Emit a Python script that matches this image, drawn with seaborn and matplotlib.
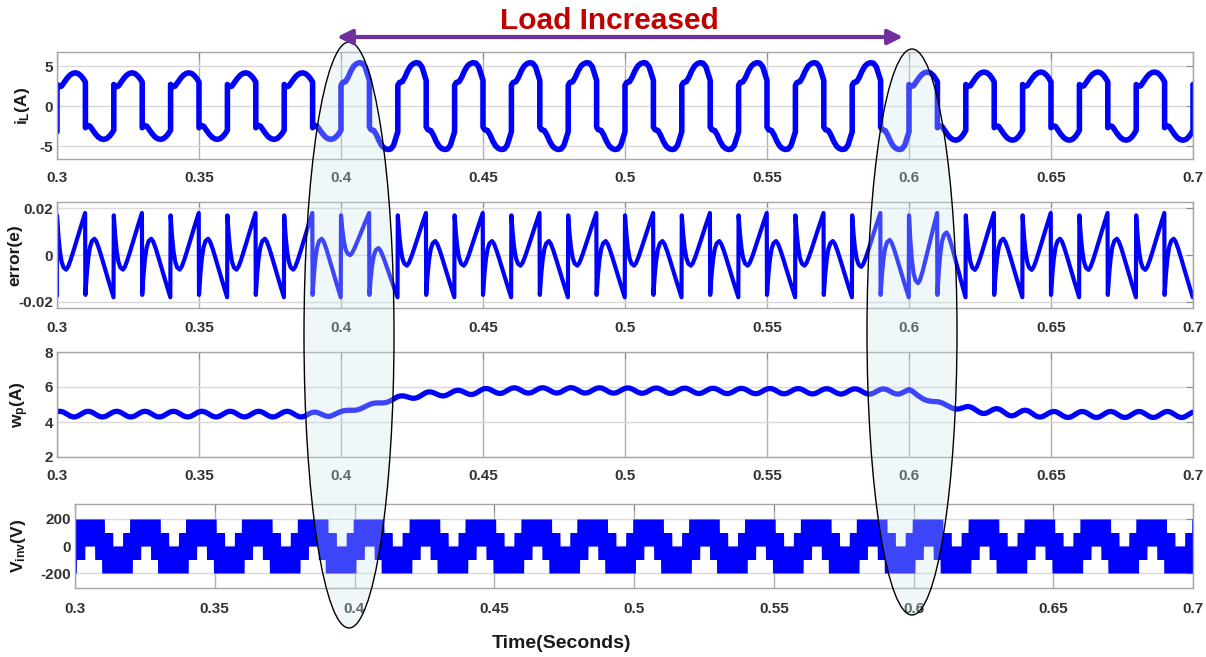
import numpy as np
import pandas as pd
import matplotlib
matplotlib.use("Agg")
import matplotlib.pyplot as plt
import seaborn as sns
from matplotlib.patches import Ellipse
from matplotlib import font_manager

# ---------------- data ----------------
X_TICKS = [0.30, 0.35, 0.40, 0.45, 0.50, 0.55, 0.60, 0.65, 0.70]
X_TICK_LABELS = ["0.3", "0.35", "0.4", "0.45", "0.5", "0.55", "0.6", "0.65", "0.7"]
T_START = 0.30          # first jump of the 50 Hz current
HALF_S = 0.010          # half period (s)

# i_L : shape of one half cycle (ms after a jump) for light and heavy load
IL_PHASE_MS = [0.0, 0.6, 1.6, 2.5, 3.5, 4.5, 5.5, 6.5, 7.5, 8.5, 9.3, 10.0]
IL_LIGHT = [2.7, 2.4, 2.5, 2.95, 3.45, 3.85, 4.08, 4.15, 4.05, 3.75, 3.4, 3.0]
IL_HEAVY = [2.6, 2.95, 3.05, 3.6, 4.4, 5.0, 5.3, 5.42, 5.35, 4.9, 4.0, 3.2]
IL_LIGHT_PEAK, IL_HEAVY_PEAK = 4.15, 5.42
# peak magnitude of every half cycle 0.30 ... 0.69
IL_HALF_PEAK = [4.15, 4.15, 4.15, 4.15, 4.15, 4.15, 4.15, 4.15, 4.15, 4.15,
                5.42, 5.42, 5.42, 5.42, 5.42, 5.42, 5.42, 5.42, 5.42, 5.42,
                5.42, 5.42, 5.42, 5.42, 5.42, 5.42, 5.42, 5.42, 5.42, 5.42,
                4.25, 4.25, 4.25, 4.25, 4.25, 4.25, 4.25, 4.25, 4.25, 4.25]

# error(e): half-cycle shape, fraction of the way from inner extreme to the edge
ERR_PHASE_MS = [0.0, 0.5, 1.0, 1.6, 2.3, 3.2, 3.9, 4.8, 5.8, 7.0, 8.4, 9.9]
ERR_SHAPE = [1.0, 0.62, 0.35, 0.15, 0.04, 0.0, 0.05, 0.17, 0.33, 0.53, 0.76, 1.0]
ERR_START, ERR_END = 0.0170, 0.0180
# inner extreme of every half cycle 0.30 ... 0.69 (signed, as read)
ERR_INNER = [-0.0062, 0.0070, -0.0062, 0.0070, -0.0062, 0.0070, -0.0062, 0.0070, -0.0062, 0.0070,
             0.0000, 0.0030, -0.0045, 0.0060, -0.0045, 0.0060, -0.0045, 0.0060, -0.0045, 0.0060,
             -0.0045, 0.0060, -0.0045, 0.0060, -0.0045, 0.0060, -0.0045, 0.0060, -0.0050, 0.0065,
             -0.0120, 0.0097, -0.0063, 0.0070, -0.0063, 0.0070, -0.0063, 0.0070, -0.0063, 0.0070]

# w_p : slowly varying mean, ripple amplitude and 100 Hz ripple shape
WP_T = [0.300, 0.388, 0.396, 0.400, 0.405, 0.410, 0.415, 0.420, 0.425, 0.430, 0.440,
        0.450, 0.460, 0.480, 0.590, 0.600, 0.603, 0.608, 0.613, 0.618, 0.623, 0.628,
        0.633, 0.640, 0.650, 0.700]
WP_MEAN = [4.45, 4.45, 4.40, 4.55, 4.72, 4.95, 5.15, 5.38, 5.45, 5.58, 5.66,
           5.76, 5.80, 5.81, 5.74, 5.74, 5.50, 5.20, 4.95, 4.80, 4.70, 4.62,
           4.56, 4.50, 4.43, 4.43]
WP_AMP = [0.16, 0.16, 0.08, 0.06, 0.06, 0.06, 0.07, 0.09, 0.11, 0.13, 0.14,
          0.15, 0.15, 0.15, 0.15, 0.14, 0.08, 0.07, 0.08, 0.12, 0.15, 0.17,
          0.18, 0.18, 0.17, 0.17]
WP_RIPPLE_SHAPE = [1.0, 0.95, 0.81, 0.59, 0.31, 0.0, -0.31, -0.59, -0.81, -0.95,
                   -1.0, -0.95, -0.81, -0.59, -0.31, 0.0, 0.31, 0.59, 0.81, 0.95]
WP_PEAK_MS = 1.2

# V_inv : stepped envelope of the PWM band over one 20 ms cycle
VTOP_PHASE_MS = [0.0, 10.5, 13.5, 17.0, 19.5]
VTOP_LEVEL = [200, 100, 0, 100, 200]
VBOT_PHASE_MS = [0.0, 0.5, 3.5, 7.0, 9.5]
VBOT_LEVEL = [-200, -100, 0, -100, -200]

PANEL_LABELS = [r"$\mathbf{i_L(A)}$", "error(e)", r"$\mathbf{w_p(A)}$", r"$\mathbf{V_{inv}(V)}$"]
Y_TICKS = [[-5, 0, 5], [-0.02, 0, 0.02], [2, 4, 6, 8], [-200, 0, 200]]
Y_TICK_LABELS = [["-5", "0", "5"], ["-0.02", "0", "0.02"], ["2", "4", "6", "8"], ["-200", "0", "200"]]
Y_LIMS = [(-6.6, 6.75), (-0.0226, 0.0227), (2, 8), (-311, 311)]

# ---------------- build the series ----------------
il_t, il_v = [T_START], [-3.2]
for k, peak in enumerate(IL_HALF_PEAK):
    t0 = T_START + k * HALF_S
    sgn = 1 if k % 2 == 0 else -1
    w = (peak - IL_LIGHT_PEAK) / (IL_HEAVY_PEAK - IL_LIGHT_PEAK)
    for ph, a, b in zip(IL_PHASE_MS, IL_LIGHT, IL_HEAVY):
        il_t.append(t0 + ph / 1000)
        il_v.append(sgn * (a + w * (b - a)))
il_t.append(0.70)
il_v.append(2.7)
df_il = pd.DataFrame({"t": il_t, "v": il_v})

er_t, er_v = [T_START], [-0.0175]
for k, inner in enumerate(ERR_INNER):
    t0 = T_START + k * HALF_S
    sgn = 1 if k % 2 == 0 else -1
    m = sgn * inner
    for ph, u in zip(ERR_PHASE_MS, ERR_SHAPE):
        edge = ERR_START if ph <= 3.2 else ERR_END
        er_t.append(t0 + ph / 1000)
        er_v.append(sgn * (m + (edge - m) * u))
df_er = pd.DataFrame({"t": er_t, "v": er_v})

wp_t = np.round(np.arange(0.300, 0.7001, 0.0005), 6)
mean = np.interp(wp_t, WP_T, WP_MEAN)
amp = np.interp(wp_t, WP_T, WP_AMP)
idx = np.round(((wp_t * 1000 - WP_PEAK_MS) % 10.0) / 0.5).astype(int) % len(WP_RIPPLE_SHAPE)
df_wp = pd.DataFrame({"t": wp_t, "v": mean + amp * np.array(WP_RIPPLE_SHAPE)[idx]})

v_t = np.arange(0.300, 0.7000, 0.00005)
ph = ((v_t - T_START) * 1000) % 20.0
v_top = np.array(VTOP_LEVEL)[np.searchsorted(VTOP_PHASE_MS, ph, side="right") - 1]
v_bot = np.array(VBOT_LEVEL)[np.searchsorted(VBOT_PHASE_MS, ph, side="right") - 1]

# ---------------- styling ----------------
sns.set_theme(style="white")
names = {f.name for f in font_manager.fontManager.ttflist}
FONT = "Liberation Sans Narrow" if "Liberation Sans Narrow" in names else "Liberation Sans"
plt.rcParams["font.family"] = [FONT, "DejaVu Sans"]
plt.rcParams["mathtext.fontset"] = "custom"
plt.rcParams["mathtext.rm"] = FONT
plt.rcParams["mathtext.it"] = FONT + ":italic"
plt.rcParams["mathtext.bf"] = FONT + ":bold"

W, H = 1206, 657
fig = plt.figure(figsize=(W / 100, H / 100), dpi=100)

def frac(left, top, right, bottom):
    return [left / W, 1 - bottom / H, (right - left) / W, (bottom - top) / H]

rects = [frac(57, 52, 1193, 159), frac(57, 202, 1193, 308),
         frac(57, 352, 1193, 457), frac(75, 504, 1193, 588)]
label_x_px = [22, 15, 20, 18]
BLUE = "#0000FF"
axes = []
for i, r in enumerate(rects):
    ax = fig.add_axes(r)
    axes.append(ax)
    ax.set_xlim(0.3, 0.7)
    ax.set_ylim(*Y_LIMS[i])
    ax.set_xticks(X_TICKS)
    ax.set_xticklabels(X_TICK_LABELS)
    ax.set_yticks(Y_TICKS[i])
    ax.set_yticklabels(Y_TICK_LABELS[i])
    ax.xaxis.grid(True, color="#b0b0b0", lw=1.0)
    ax.yaxis.grid(True, color="#d9d9d9", lw=1.0)
    ax.set_axisbelow(True)
    for s in ax.spines.values():
        s.set_color("#a6a6a6")
        s.set_linewidth(1.0)
        s.set_visible(True)
    ax.tick_params(axis="both", direction="in", length=5, width=0.8, color="#8c8c8c",
                   top=True, right=True, labelsize=11, labelcolor="#333333")
    ax.tick_params(axis="x", pad=9 if i < 3 else 10)
    ax.tick_params(axis="y", pad=3)
    for lab in ax.get_xticklabels() + ax.get_yticklabels():
        lab.set_fontweight("bold")

sns.lineplot(data=df_il, x="t", y="v", ax=axes[0], color=BLUE, lw=4.0,
             estimator=None, sort=False)
sns.lineplot(data=df_er, x="t", y="v", ax=axes[1], color=BLUE, lw=3.0,
             estimator=None, sort=False)
sns.lineplot(data=df_wp, x="t", y="v", ax=axes[2], color=BLUE, lw=3.8,
             estimator=None, sort=False)
axes[3].fill_between(v_t, v_bot, v_top, color=BLUE, lw=0)

for i, ax in enumerate(axes):
    ax.set_xlabel("")
    ax.set_ylabel(PANEL_LABELS[i], fontsize=12.5, fontweight="bold", color="#1a1a1a")
    r = rects[i]
    x_ax = (label_x_px[i] / W - r[0]) / r[2]
    ax.yaxis.set_label_coords(x_ax, 0.5)
    ax.yaxis.label.set_verticalalignment("center")

fig.text(562 / W, 1 - 643 / H, "Time(Seconds)", ha="center", va="center",
         fontsize=14, fontweight="bold", color="#1a1a1a")

# ---------------- overlay annotations ----------------
ov = fig.add_axes([0, 0, 1, 1], zorder=10)
ov.set_xlim(0, W)
ov.set_ylim(H, 0)
ov.axis("off")
ov.patch.set_alpha(0)
for cx, cy, ew, eh in [(349, 335, 90, 586), (912, 332, 90, 566)]:
    ov.add_patch(Ellipse((cx, cy), ew, eh, facecolor=(0.80, 0.90, 0.93, 0.3),
                         edgecolor="black", lw=1.0))
ov.annotate("", xy=(337, 37), xytext=(903, 37),
            arrowprops=dict(arrowstyle="<|-|>", color="#7030A0", lw=3,
                            mutation_scale=22, shrinkA=0, shrinkB=0))
ov.text(609, 21, "Load Increased", ha="center", va="center", fontsize=21.5,
        fontweight="bold", color="#C00000")

fig.savefig("out.png", dpi=100)
